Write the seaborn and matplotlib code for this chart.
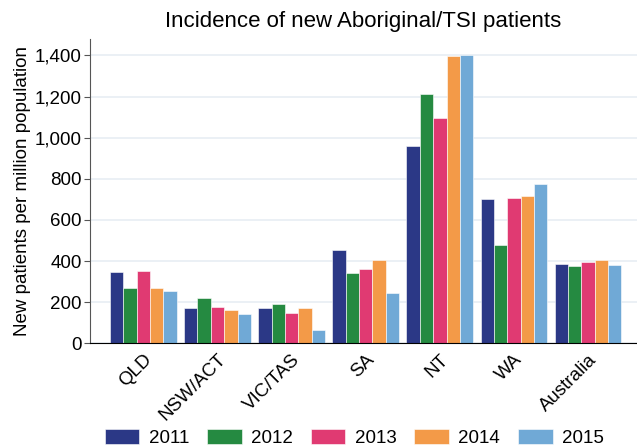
import pandas as pd
import seaborn as sns
import matplotlib.pyplot as plt
from matplotlib.ticker import FuncFormatter

# dados
estados = ['QLD', 'NSW/ACT', 'VIC/TAS', 'SA', 'NT', 'WA', 'Australia']
anos = ['2011', '2012', '2013', '2014', '2015']
v2011 = [345, 170, 170, 455, 960, 703, 385]
v2012 = [270, 220, 193, 340, 1215, 478, 374]
v2013 = [350, 175, 147, 360, 1097, 708, 397]
v2014 = [267, 160, 170, 403, 1397, 716, 403]
v2015 = [256, 144, 65, 246, 1400, 773, 381]
cores = ['#2b3886', '#258a41', '#e03a72', '#f39a48', '#70a9d6']

df = pd.DataFrame({'Estado': estados * 5,
                   'Ano': [a for a in anos for _ in estados],
                   'Valor': v2011 + v2012 + v2013 + v2014 + v2015})

sns.set_style('white')
plt.rcParams['font.family'] = ['Liberation Sans', 'DejaVu Sans']
plt.rcParams['text.color'] = 'black'
plt.rcParams['axes.labelcolor'] = 'black'
plt.rcParams['xtick.color'] = 'black'
plt.rcParams['ytick.color'] = 'black'

fig = plt.figure(figsize=(6.37, 4.48), dpi=100)
ax = fig.add_axes([0.1413, 0.2337, 0.8587, 0.6792])

sns.barplot(data=df, x='Estado', y='Valor', hue='Ano', palette=cores, saturation=1,
            width=0.9, gap=0, edgecolor='white', linewidth=0.4, ax=ax)

ax.set_ylim(0, 1480)
ax.set_xlim(-0.72, 6.66)
ax.set_yticks(range(0, 1401, 200))
ax.yaxis.set_major_formatter(FuncFormatter(lambda v, p: f'{int(v):,}'))
ax.yaxis.grid(True, color='#e8eef3', linewidth=1.2)
ax.set_axisbelow(True)

for s in ['top', 'right']:
    ax.spines[s].set_visible(False)
ax.spines['left'].set_color('#555555')
ax.spines['bottom'].set_color('black')
ax.tick_params(axis='y', left=True, length=4, color='#555555', labelsize=13.5, pad=2)
ax.tick_params(axis='x', bottom=False, labelsize=13.5, pad=2)
plt.setp(ax.get_xticklabels(), rotation=45, ha='right', rotation_mode='anchor')

ax.set_xlabel('')
ax.set_ylabel('New patients per million population', fontsize=13.5, labelpad=3)
ax.set_title('Incidence of new Aboriginal/TSI patients', fontsize=16, pad=9)

handles, labels = ax.get_legend_handles_labels()
ax.legend_.remove()
fig.legend(handles, labels, loc='center', bbox_to_anchor=(0.556, 0.022), ncol=5,
           frameon=False, fontsize=13.5, handlelength=1.85, handleheight=0.88,
           handletextpad=0.5, columnspacing=0.95)

fig.savefig('out.png', dpi=100)
